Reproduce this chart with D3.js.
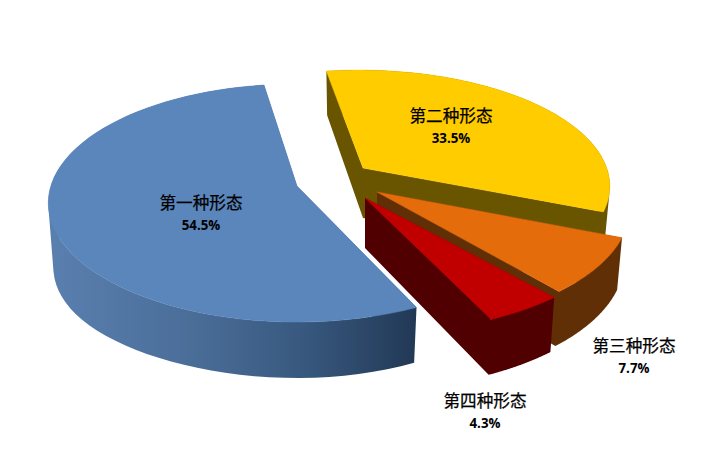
<!DOCTYPE html>
<html><head><meta charset="utf-8">
<script src="https://cdnjs.cloudflare.com/ajax/libs/d3/7.8.5/d3.min.js"></script>
<style>html,body{margin:0;background:#fff}svg{display:block}</style>
</head><body><svg id="c" width="707" height="464"></svg>
<script>
const categories = ["第一种形态","第二种形态","第三种形态","第四种形态"];
const shares = [54.5,33.5,7.7,4.3];

// Styling and layout, kept apart from the data
const topColors = ["#5B86BC","#FFCC00","#E46C0A","#C00000"];
const sideColors = ["url(#blueSide)","#695500","#612F05","#500000"];
const center = [350,180];
const explode = [[-53,6],[13,-12],[27,12],[15,18]];
const widen = [0.995,0.985,1.01,1.05];
const heighten = [1,0.96,1,1];
const skew = [0,4,0,0];
const labelPos = [[201,203],[451,116],[634,346],[485,401]];
const startDeg = 155;
const A = 247.4, B = 116.6, P = 0.1429, baseScale = 0.98;

const svg = d3.select("#c");
const g = svg.append("defs").append("linearGradient").attr("id","blueSide")
  .attr("gradientUnits","userSpaceOnUse").attr("x1",47).attr("x2",415).attr("y1",0).attr("y2",0);
[[0,"#5A80B0"],[.4,"#4A6D98"],[.7,"#38587E"],[1,"#223956"]].forEach(([o,c])=>g.append("stop").attr("offset",o).attr("stop-color",c));

const pie = d3.pie().sort(null)
  .startAngle(startDeg*Math.PI/180).endAngle((startDeg+360)*Math.PI/180);
const arcs = pie(shares);
const line = d3.line();

function project(i,a,r,bottom){
  const u = r*Math.sin(a), v = r*Math.cos(a), w = 1+P*v;
  let x = A*u/w*widen[i]-skew[i]*v, y = -B*v/w*heighten[i];
  if(bottom){ x*=baseScale; y+=50-6*v+13*Math.pow(Math.max(0,-u),3); }
  return [center[0]+explode[i][0]+x, center[1]+explode[i][1]+y];
}
const steps = d => d3.range(0,65).map(k=>d.startAngle+(d.endAngle-d.startAngle)*k/64);
// one winding for every quad, so they merge in a single path without seams
const wound = q => d3.polygonArea(q)<0 ? q.slice().reverse() : q;

// paint back to front: yellow, orange, red, blue
[1,2,3,0].forEach(i=>{
  const d = arcs[i], as = steps(d);
  const top = as.map(a=>project(i,a,1,false)), bot = as.map(a=>project(i,a,1,true));
  const apex = project(i,0,0,false), apexB = project(i,0,0,true);
  const grp = svg.append("g");
  const quads = [[apex,top[0],bot[0],apexB],[apex,top[64],bot[64],apexB],
    ...d3.range(64).map(k=>[top[k],top[k+1],bot[k+1],bot[k]])];
  grp.append("path").attr("d",quads.map(q=>line(wound(q))+"Z").join(""))
    .attr("fill",sideColors[i]);
  grp.append("path").attr("d",line([apex,...top])+"Z").attr("fill",topColors[i])
    .attr("stroke",topColors[i]).attr("stroke-width",.5);
});

const labels = svg.append("g").attr("text-anchor","middle").attr("fill","#000");
categories.forEach((c,i)=>{
  labels.append("text").attr("x",labelPos[i][0]).attr("y",labelPos[i][1]+6)
    .attr("font-family","'Noto Sans CJK SC'").attr("font-size",16.6)
    .attr("stroke","#000").attr("stroke-width",.25).text(c);
  labels.append("text").attr("x",labelPos[i][0]).attr("y",labelPos[i][1]+27)
    .attr("font-family","'Open Sans'").attr("font-weight",700).attr("font-size",13.3).text(d3.format(".1f")(shares[i])+"%");
});
</script></body></html>
